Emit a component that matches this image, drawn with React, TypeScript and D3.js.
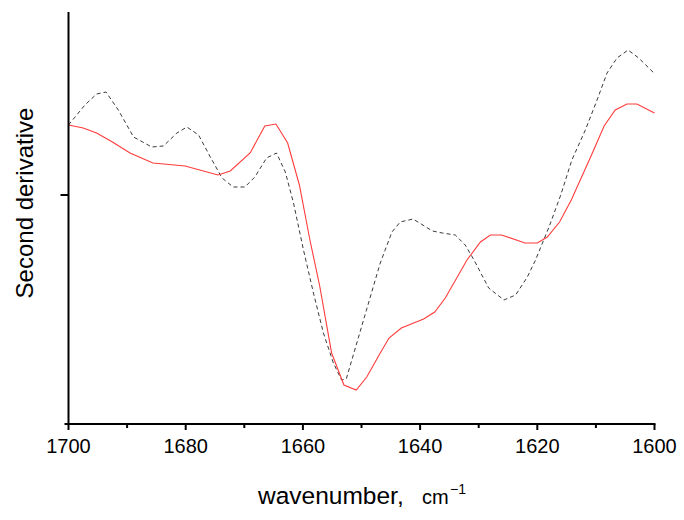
import React from "react";
import * as d3 from "d3";

const redWn = [1700, 1697.5, 1695.2, 1692.5, 1689.5, 1685.6, 1680.1, 1674.5, 1672.4, 1669, 1666.5, 1664.6, 1662.6, 1660.6, 1658.8, 1657.1, 1655.1, 1653.0, 1650.9, 1649.1, 1646.8, 1645.3, 1643.2, 1639.4, 1637.5, 1635.7, 1632.0, 1629.7, 1628.0, 1626.1, 1622.1, 1620.0, 1618.3, 1616.2, 1614.2, 1610.6, 1608.6, 1606.7, 1604.7, 1603.0, 1600];
const redVal = [0.70, 0.67, 0.62, 0.53, 0.42, 0.32, 0.29, 0.20, 0.24, 0.42, 0.69, 0.71, 0.52, 0.10, -0.45, -0.92, -1.58, -1.90, -1.95, -1.82, -1.58, -1.43, -1.33, -1.24, -1.17, -1.03, -0.65, -0.47, -0.40, -0.40, -0.48, -0.48, -0.42, -0.27, -0.05, 0.42, 0.69, 0.85, 0.91, 0.91, 0.82];

const blackWn = [1700, 1697.2, 1695.2, 1693.6, 1691.5, 1688.9, 1685.8, 1683.8, 1681.5, 1679.8, 1677.8, 1675.8, 1673.8, 1671.9, 1669.9, 1668.2, 1666.2, 1664.5, 1663.0, 1661.6, 1659.9, 1658.2, 1656.5, 1654.8, 1653.4, 1652.6, 1650.8, 1648.8, 1646.8, 1644.8, 1643.4, 1641.2, 1637.9, 1636.2, 1634.0, 1632.3, 1630.8, 1628.3, 1625.7, 1623.7, 1621.7, 1620.3, 1618.0, 1616.0, 1614.1, 1611.8, 1609.8, 1608.1, 1606.4, 1604.5, 1602.7, 1600.1];
const blackVal = [0.70, 0.90, 1.01, 1.03, 0.85, 0.58, 0.48, 0.49, 0.62, 0.68, 0.60, 0.38, 0.17, 0.08, 0.08, 0.18, 0.37, 0.42, 0.23, -0.08, -0.55, -0.98, -1.38, -1.68, -1.85, -1.84, -1.48, -1.08, -0.68, -0.37, -0.27, -0.24, -0.36, -0.38, -0.40, -0.50, -0.65, -0.93, -1.05, -1.00, -0.82, -0.65, -0.32, 0.00, 0.35, 0.65, 0.95, 1.22, 1.37, 1.45, 1.37, 1.22];

const majorTicks = [1700, 1680, 1660, 1640, 1620, 1600];
const minorTicks = [1690, 1670, 1650, 1630, 1610];
const yTicks = [0];

const W = 684;
const H = 520;
const X0 = 68.5;
const X1 = 654.5;
const YTOP = 12;
const YBOT = 424;

export default function App() {
  const x = d3.scaleLinear().domain([1700, 1600]).range([X0, X1]);
  const y = d3.scaleLinear().domain([-2.29, 1.83]).range([YBOT, YTOP]);
  const line = d3
    .line<[number, number]>()
    .x((d) => x(d[0]))
    .y((d) => y(d[1]))
    .curve(d3.curveLinear);
  const red = line(redWn.map((w, i) => [w, redVal[i]] as [number, number])) || "";
  const black = line(blackWn.map((w, i) => [w, blackVal[i]] as [number, number])) || "";
  const font = "Arial, 'Liberation Sans', Helvetica, sans-serif";
  return (
    <svg
      width={W}
      height={H}
      style={{ position: "absolute", left: 0, top: 0, background: "#fff" }}
      fontFamily={font}
    >
      <rect width={W} height={H} fill="#fff" />
      <path d={black} fill="none" stroke="#3a3a3a" strokeWidth={1} strokeDasharray="4,3" />
      <path d={red} fill="none" stroke="#ff3b3b" strokeWidth={1.1} />
      <line x1={X0} x2={X0} y1={YTOP} y2={YBOT} stroke="#000" strokeWidth={2} />
      <line x1={X0 - 4} x2={X1 + 1} y1={YBOT} y2={YBOT} stroke="#000" strokeWidth={2} />
      {yTicks.map((t) => (
        <line key={"y" + t} x1={X0 - 8} x2={X0} y1={y(t)} y2={y(t)} stroke="#000" strokeWidth={2} />
      ))}
      {majorTicks.map((t) => (
        <g key={"M" + t}>
          <line x1={x(t)} x2={x(t)} y1={YBOT} y2={YBOT + 6} stroke="#000" strokeWidth={2} />
          <text x={x(t)} y={453} textAnchor="middle" fontSize={20} fill="#000">
            {t}
          </text>
        </g>
      ))}
      {minorTicks.map((t) => (
        <line key={"m" + t} x1={x(t)} x2={x(t)} y1={YBOT} y2={YBOT + 4} stroke="#000" strokeWidth={2} />
      ))}
      <text x={258} y={504} fontSize={24.5} fill="#000">
        wavenumber,
      </text>
      <text x={422} y={504} fontSize={20} fill="#000">
        cm
      </text>
      <text x={450} y={494} fontSize={14} fill="#000">
        −1
      </text>
      <text
        transform={`translate(33,203) rotate(-90)`}
        textAnchor="middle"
        fontSize={24}
        fill="#000"
      >
        Second derivative
      </text>
    </svg>
  );
}
